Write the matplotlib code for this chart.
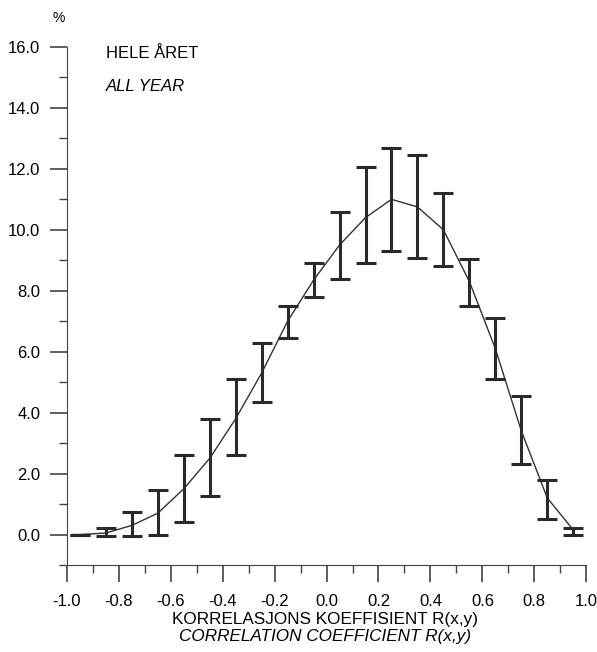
import numpy as np
import matplotlib.pyplot as plt
from matplotlib.ticker import MultipleLocator

plt.rcParams['font.family'] = ['Liberation Sans', 'DejaVu Sans']

# correlation classes (bin centres)
r_mid = [-0.95, -0.85, -0.75, -0.65, -0.55, -0.45, -0.35, -0.25, -0.15, -0.05,
         0.05, 0.15, 0.25, 0.35, 0.45, 0.55, 0.65, 0.75, 0.85, 0.95]
# mean frequency (%)
freq = [0.0, 0.05, 0.3, 0.7, 1.5, 2.5, 3.8, 5.3, 7.0, 8.35,
        9.5, 10.4, 11.0, 10.75, 10.0, 8.3, 6.1, 3.4, 1.2, 0.15]
# error bar limits (%)
low = [0.0, -0.05, -0.05, 0.0, 0.4, 1.25, 2.6, 4.35, 6.45, 7.8,
       8.4, 8.9, 9.3, 9.07, 8.8, 7.5, 5.1, 2.3, 0.5, 0.0]
high = [0.0, 0.2, 0.75, 1.45, 2.6, 3.8, 5.1, 6.3, 7.5, 8.9,
        10.6, 12.05, 12.7, 12.45, 11.2, 9.05, 7.1, 4.55, 1.8, 0.2]

fig = plt.figure(figsize=(5.97, 6.52), dpi=100)
ax = fig.add_axes([0.112, 0.1334, 0.87, 0.7946])

r = np.array(r_mid)
f = np.array(freq)
lo = np.array(low)
hi = np.array(high)

# the curve through the means
ax.plot(np.concatenate([[-0.98], r]), np.concatenate([[0.0], f]),
        color='#333333', lw=1.0)

# bars
mid = (lo + hi) / 2
ax.errorbar(r, mid, yerr=[mid - lo, hi - mid],
            fmt='none', ecolor='#2a2a2a', elinewidth=2.2, capsize=7,
            capthick=2.2)

ax.set_xlim(-1.0, 1.0)
ax.set_ylim(-1.0, 16.0)
for s in ['top', 'right']:
    ax.spines[s].set_visible(False)
ax.spines['left'].set_color('#444444')
ax.spines['bottom'].set_color('#444444')

ax.xaxis.set_minor_locator(MultipleLocator(0.1))
ax.yaxis.set_minor_locator(MultipleLocator(1.0))
ax.set_yticks(np.arange(0, 16.1, 2))
ax.set_yticklabels(['%.1f' % v for v in np.arange(0, 16.1, 2)])
ax.set_xticks(np.arange(-1.0, 1.01, 0.2))
ax.set_xticklabels(['%.1f' % v if abs(v) > 1e-9 else '0.0'
                    for v in np.arange(-1.0, 1.01, 0.2)])
ax.tick_params(which='major', length=12, width=1.2, color='#444444',
               labelsize=12)
ax.tick_params(axis='x', which='major', pad=9)
ax.tick_params(axis='y', which='major', pad=7)
ax.tick_params(which='minor', length=6, width=1.0, color='#444444')

ax.text(-1.03, 16.95, '%', fontsize=10, ha='center', va='center')
ax.text(-0.85, 15.65, 'HELE ÅRET', fontsize=12)
ax.text(-0.85, 14.55, 'ALL YEAR', fontsize=12, style='italic')

fig.text(0.545, 0.050, 'KORRELASJONS KOEFFISIENT R(x,y)', fontsize=12.3,
         ha='center', va='center')
fig.text(0.545, 0.024, 'CORRELATION COEFFICIENT R(x,y)', fontsize=12.3,
         ha='center', va='center', style='italic')

fig.savefig('out.png', dpi=100)
